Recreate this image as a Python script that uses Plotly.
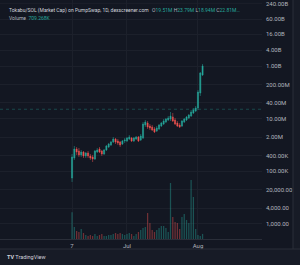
import plotly.graph_objects as go
import pandas as pd

# ---------------- data ----------------
dates = pd.date_range("2025-06-07", "2025-08-03", freq="D")  # 58 daily candles

# market cap in millions (M)
open_m = [0.0558, 0.321, 0.705, 0.593, 0.418, 0.543, 0.383, 0.498, 0.383, 0.351,
          0.294, 0.543, 0.705, 0.593, 0.456, 0.646, 0.839, 1.00, 1.30, 1.69,
          1.42, 1.30, 1.09, 1.42, 1.42, 1.69, 1.85, 1.42, 1.69, 2.01,
          1.55, 1.85, 5.75, 6.85, 5.27, 4.83, 4.05, 3.40, 4.05, 5.27,
          6.28, 7.48, 8.91, 9.72, 11.6, 8.91, 6.85, 5.75, 5.27, 7.48,
          8.91, 10.6, 12.6, 16.4, 19.6, 25.5, 94.4, 456]
high_m = [0.456, 0.916, 0.839, 0.769, 0.646, 0.593, 0.543, 0.593, 0.456, 0.418,
          0.646, 0.769, 0.839, 0.646, 0.705, 1.00, 1.19, 1.42, 2.01, 1.85,
          1.69, 1.42, 1.55, 1.85, 2.01, 2.40, 2.01, 2.01, 2.20, 2.20,
          2.62, 7.48, 8.91, 8.16, 6.28, 5.75, 4.83, 5.27, 6.28, 7.48,
          9.72, 10.6, 12.6, 17.9, 16.4, 10.6, 8.16, 6.85, 8.91, 10.6,
          12.6, 15.1, 21.4, 25.5, 30.3, 123, 593, 1194]
low_m = [0.0394, 0.270, 0.418, 0.351, 0.351, 0.321, 0.321, 0.321, 0.270, 0.226,
         0.270, 0.498, 0.498, 0.383, 0.418, 0.593, 0.769, 0.916, 1.19, 1.09,
         1.00, 0.839, 1.00, 1.19, 1.30, 1.55, 1.30, 1.30, 1.55, 1.30,
         1.42, 1.69, 4.83, 4.05, 3.72, 3.40, 2.86, 3.12, 3.72, 4.83,
         5.75, 6.85, 8.16, 8.16, 7.48, 5.75, 4.83, 4.43, 4.83, 6.85,
         8.16, 9.72, 11.6, 15.1, 17.9, 21.4, 72.6, 418]
close_m = [0.351, 0.705, 0.543, 0.418, 0.543, 0.383, 0.498, 0.383, 0.321, 0.294,
           0.593, 0.646, 0.543, 0.456, 0.646, 0.916, 1.09, 1.30, 1.69, 1.30,
           1.19, 1.00, 1.42, 1.55, 1.85, 2.01, 1.42, 1.85, 2.01, 1.42,
           2.20, 6.28, 7.48, 4.83, 4.43, 3.72, 3.12, 4.43, 5.75, 6.85,
           8.16, 9.72, 10.6, 12.6, 8.16, 6.28, 5.27, 4.83, 8.16, 9.72,
           11.6, 13.8, 17.9, 21.4, 25.5, 103, 543, 1000]
# volume in thousands (K)
volume_k = [3740, 1680, 1120, 980, 1400, 840, 560, 420, 560, 420,
            700, 420, 560, 700, 420, 420, 560, 560, 700, 840,
            700, 840, 700, 560, 700, 840, 700, 420, 700, 980,
            1260, 1540, 1680, 3640, 2240, 1260, 980, 1260, 1540, 1820,
            1820, 1540, 980, 7840, 3080, 2380, 2240, 1400, 3080, 3500,
            2660, 2240, 8260, 5880, 1400, 560, 420, 709.268]

price_tick_vals = [0.001, 0.004, 0.02, 0.1, 0.4, 2, 10, 40, 200, 1000, 4000, 16000, 60000]
price_tick_text = ["1,000.00", "4,000.00", "20,000.00", "100.00K", "400.00K", "2.00M", "10.00M",
                   "40.00M", "200.00M", "1.00B", "4.00B", "16.00B", "60.00B"]
top_tick_val = 240000
top_tick_text = "240.00B"
time_tick_vals = ["2025-06-07", "2025-07-01", "2025-08-01"]
time_tick_text = ["7", "Jul", "Aug"]
last_price_m = 22.81
last_price_text = "22.81M"
title_text = "Tokabu/SOL (Market Cap) on PumpSwap, 1D, dexscreener.com"
ohlc_labels = ["O", "H", "L", "C"]
ohlc_values = ["19.51M", "23.79M", "18.94M", "22.81M…"]
volume_label = "709.268K"

# ---------------- style ----------------
W, H = 300, 265
ML, MR, MT, MB = 0, 38, 0, 26
PW, PH = W - ML - MR, H - MT - MB
BG = "#131722"
GRID = "#1c202b"
UP = "#26a69a"
DOWN = "#ef5350"
UP_V = "rgba(38,166,154,0.42)"
DOWN_V = "rgba(239,83,80,0.42)"
TXT = "#b2b5be"
FONT = "Roboto"


def px(x):
    return (x - ML) / PW


def py(y):
    return 1 - (y - MT) / PH


vol_colors = [UP_V if c >= o else DOWN_V for o, c in zip(open_m, close_m)]

fig = go.Figure()
fig.add_trace(go.Bar(
    x=dates, y=volume_k, yaxis="y2", marker=dict(color=vol_colors, line=dict(width=0)),
    width=0.55 * 86400000, hoverinfo="skip"))
fig.add_trace(go.Candlestick(
    x=dates, open=open_m, high=high_m, low=low_m, close=close_m,
    increasing=dict(line=dict(color=UP, width=0.5), fillcolor=UP),
    decreasing=dict(line=dict(color=DOWN, width=0.5), fillcolor=DOWN),
    whiskerwidth=0, hoverinfo="skip"))

shapes = [
    # last price line
    dict(type="line", xref="paper", yref="y", x0=0, x1=1, y0=last_price_m, y1=last_price_m,
         line=dict(color="rgba(38,166,154,0.35)", width=1, dash="dot")),
    # grid line for the top label
    dict(type="line", xref="paper", yref="y", x0=0, x1=1, y0=top_tick_val, y1=top_tick_val,
         line=dict(color=GRID, width=1), layer="below"),
    # bottom toolbar
    dict(type="rect", xref="paper", yref="paper", x0=px(0), x1=px(W), y0=py(H), y1=py(249),
         fillcolor="#171b26", line=dict(width=0), layer="below"),
    dict(type="line", xref="paper", yref="paper", x0=px(0), x1=px(W), y0=py(249), y1=py(249),
         line=dict(color="#2a2e39", width=1)),
    # right edge strip
    dict(type="rect", xref="paper", yref="paper", x0=px(293), x1=px(W), y0=py(249), y1=py(0),
         fillcolor="#171b26", line=dict(width=0), layer="below"),
    dict(type="line", xref="paper", yref="paper", x0=px(293), x1=px(293), y0=py(249), y1=py(0),
         line=dict(color="#2a2e39", width=1)),
]

ohlc_html = " ".join(
    f"<span style='color:{TXT}'>{l}</span><span style='color:{UP}'>{v}</span>"
    for l, v in zip(ohlc_labels, ohlc_values))

annotations = [
    dict(xref="paper", yref="paper", x=px(7), y=py(10), xanchor="left", yanchor="middle",
         text=title_text, showarrow=False, font=dict(family=FONT, size=5, color="#d1d4dc")),
    dict(xref="paper", yref="paper", x=px(150), y=py(10), xanchor="left", yanchor="middle",
         text=ohlc_html, showarrow=False, font=dict(family=FONT, size=5, color=UP)),
    dict(xref="paper", yref="paper", x=px(7), y=py(17.5), xanchor="left", yanchor="middle",
         text=f"<span style='color:{TXT}'>Volume</span>  <span style='color:{UP}'>{volume_label}</span>",
         showarrow=False, font=dict(family=FONT, size=5, color=UP)),
    dict(xref="paper", yref="y", x=px(261), y=last_price_m, xanchor="left", yanchor="middle",
         text=last_price_text, showarrow=False, bgcolor=UP, width=25, height=6, borderpad=0.5,
         font=dict(family=FONT, size=6, color="#ffffff")),
    dict(xref="paper", yref="paper", x=px(264), y=py(3.6), xanchor="left", yanchor="middle",
         text=top_tick_text, showarrow=False, font=dict(family=FONT, size=6, color=TXT)),
    dict(xref="paper", yref="paper", x=px(5), y=py(257), xanchor="left", yanchor="middle",
         text="<b>TV</b> TradingView", showarrow=False,
         font=dict(family=FONT, size=5.5, color="#d1d4dc")),
]

fig.update_layout(
    width=W, height=H, margin=dict(l=ML, r=MR, t=MT, b=MB, pad=0),
    paper_bgcolor=BG, plot_bgcolor=BG, showlegend=False, hovermode=False,
    font=dict(family=FONT, size=6, color=TXT),
    xaxis=dict(type="date", range=["2025-05-06 13:00", "2025-08-28 23:00"],
               tickvals=time_tick_vals, ticktext=time_tick_text, tickmode="array",
               showgrid=True, gridcolor=GRID, gridwidth=1, zeroline=False,
               showline=True, linecolor="#2a2e39", ticks="", ticklabelstandoff=1,
               rangeslider=dict(visible=False), fixedrange=True),
    yaxis=dict(type="log", range=[-3.570, 5.507], side="right",
               tickvals=price_tick_vals, ticktext=price_tick_text, tickmode="array",
               showgrid=True, gridcolor=GRID, gridwidth=1, zeroline=False, showline=False,
               ticks="", ticklabelstandoff=3, fixedrange=True),
    yaxis2=dict(overlaying="y", range=[0, 33460], visible=False, fixedrange=True),
    shapes=shapes, annotations=annotations,
)

fig.write_html("out.html", config={"displayModeBar": False, "staticPlot": True})
